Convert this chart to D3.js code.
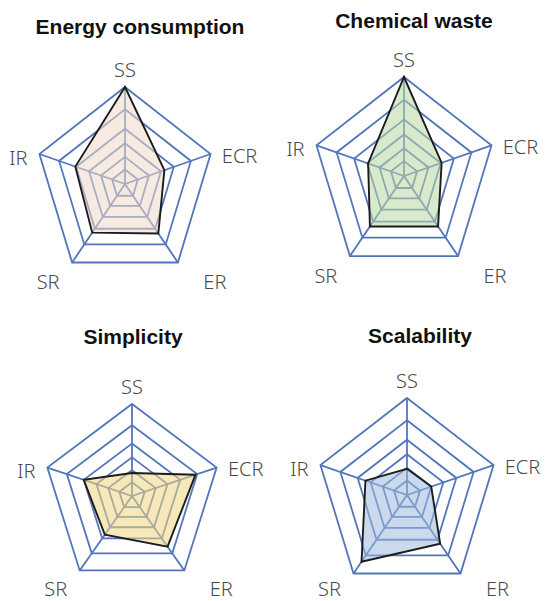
<!DOCTYPE html>
<html>
<head>
<meta charset="utf-8">
<script src="https://cdn.jsdelivr.net/npm/d3@7"></script>
<style>
    body { margin: 0; background: #fff; }
    svg { display: block; }
</style>
</head>
<body>
<div id="chart"></div>
<script>
// axis names, clockwise from the top
const axes = ["SS", "ECR", "ER", "SR", "IR"];
const chartTitles = ["Energy consumption", "Chemical waste", "Simplicity", "Scalability"];

// scores (0 = centre, 1 = outer ring)
const energyValues = [1.0, 0.46, 0.63, 0.62, 0.58];
const chemicalValues = [1.0, 0.43, 0.63, 0.63, 0.41];
const simplicityValues = [0.25, 0.75, 0.68, 0.52, 0.57];
const scalabilityValues = [0.27, 0.28, 0.62, 0.85, 0.48];

// grid rings
const ringLevels = [0.15, 0.28, 0.42, 0.57, 0.77, 1.0];

const width = 547, height = 601;
const gridColor = "#5276ba";

// where each small radar sits on the page
const panels = [
    {cx: 125, cy: 184, rx: 90, ry: 97, titleX: 140, titleY: 34, fill: "#f0d8c8"},
    {cx: 404, cy: 176, rx: 92, ry: 99, titleX: 414, titleY: 28, fill: "#b9d7a3"},
    {cx: 132, cy: 496, rx: 89, ry: 92, titleX: 133, titleY: 344, fill: "#eed67f"},
    {cx: 407, cy: 495, rx: 91, ry: 97, titleX: 420, titleY: 343, fill: "#9fb9dc"}
];
const allValues = [energyValues, chemicalValues, simplicityValues, scalabilityValues];

// label offsets from the outer vertex, per axis
const labelOffsets = [[0, -18], [29, 1], [37, 19], [-24, 19], [-21, 3]];

const svg = d3.select("#chart")
    .append("svg")
    .attr("width", width)
    .attr("height", height);

const angle = d3.scaleLinear()
    .domain([0, axes.length])
    .range([0, 2 * Math.PI]);

function renderRadar(p, values, title) {
    const rX = d3.scaleLinear().domain([0, 1]).range([0, p.rx]);
    const rY = d3.scaleLinear().domain([0, 1]).range([0, p.ry]);
    const px = (v, i) => p.cx + rX(v) * Math.sin(angle(i));
    const py = (v, i) => p.cy - rY(v) * Math.cos(angle(i));

    const g = svg.append("g");
    const poly = d3.line()
        .x(d => px(d.v, d.i))
        .y(d => py(d.v, d.i))
        .curve(d3.curveLinearClosed);

    // rings
    g.selectAll(".ring")
        .data(ringLevels)
        .enter()
        .append("path")
        .attr("d", lvl => poly(axes.map((a, i) => ({v: lvl, i: i}))))
        .attr("fill", "none")
        .attr("stroke", gridColor)
        .attr("stroke-width", 1.8);

    // spokes
    g.selectAll(".spoke")
        .data(axes)
        .enter()
        .append("line")
        .attr("x1", p.cx)
        .attr("y1", p.cy)
        .attr("x2", (d, i) => px(1, i))
        .attr("y2", (d, i) => py(1, i))
        .attr("stroke", gridColor)
        .attr("stroke-width", 1.8);

    // the data shape
    g.append("path")
        .datum(values.map((v, i) => ({v: v, i: i})))
        .attr("d", poly)
        .attr("fill", p.fill)
        .attr("fill-opacity", 0.55)
        .attr("stroke", "#1c1c1c")
        .attr("stroke-width", 1.9);

    // axis labels (kept inside the page at the bottom)
    g.selectAll(".axis-label")
        .data(axes)
        .enter()
        .append("text")
        .attr("x", (d, i) => px(1, i) + labelOffsets[i][0])
        .attr("y", (d, i) => Math.min(py(1, i) + labelOffsets[i][1], height - 13))
        .attr("text-anchor", "middle")
        .attr("dominant-baseline", "central")
        .style("font-family", "'Noto Sans', 'DejaVu Sans', sans-serif")
        .style("font-weight", 300)
        .style("font-size", "20px")
        .style("fill", "#4a4a4a")
        .text(d => d);

    g.append("text")
        .attr("x", p.titleX)
        .attr("y", p.titleY)
        .attr("text-anchor", "middle")
        .style("font-family", "'Liberation Sans', Arial, sans-serif")
        .style("font-weight", "bold")
        .style("font-size", "21px")
        .style("fill", "#111")
        .text(title);
}

panels.forEach((p, k) => renderRadar(p, allValues[k], chartTitles[k]));
</script>
</body>
</html>
